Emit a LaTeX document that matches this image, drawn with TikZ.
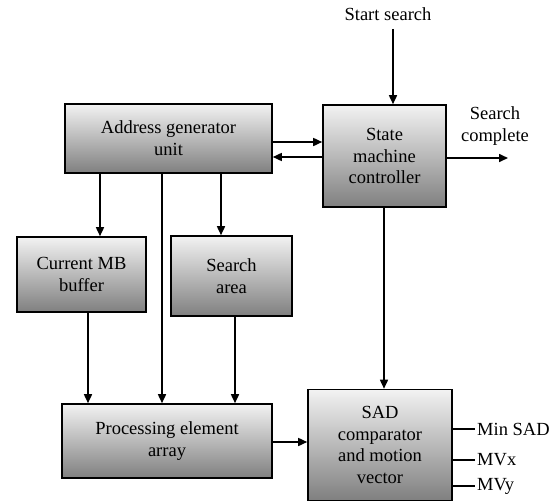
\documentclass[tikz,border=0pt]{standalone}
\usepackage{fontspec}
\setmainfont{Liberation Serif}
\usetikzlibrary{arrows.meta}
\tikzset{
  block/.style={draw=black, line width=1.6pt, top color=black!5, bottom color=black!50,
    align=center, inner sep=0pt, font=\fontsize{18.5}{21.8}\selectfont},
  lbl/.style={align=center, inner sep=2pt, font=\fontsize{18.5}{21.8}\selectfont},
  arr/.style={line width=1.6pt, -{Triangle[length=9pt,width=8pt]}},
  wire/.style={line width=1.6pt}
}
\begin{document}
\begin{tikzpicture}[x=1pt,y=-1pt]
\useasboundingbox (0,0) rectangle (559,503);

% blocks
\node[block, minimum width=207pt, minimum height=69pt] (agu) at (168.5,138.5) {Address generator\\unit};
\node[block, minimum width=123pt, minimum height=102pt] (smc) at (384.5,156) {State\\machine\\controller};
\node[block, minimum width=129pt, minimum height=75pt] (cmb) at (81.5,274.5) {Current MB\\buffer};
\node[block, minimum width=121pt, minimum height=80pt] (sa) at (231.5,276) {Search\\area};
\node[block, minimum width=210pt, minimum height=74pt] (pe) at (167,441) {Processing element\\array};
\node[block, minimum width=144pt, minimum height=111pt] (sad) at (380,445) {SAD\\comparator\\and motion\\vector};

% external labels
\node[lbl] (start) at (388,14) {Start search};
\coordinate (startend) at (393,29);
\node[lbl] (done) at (495,126) {Search\\complete};
\coordinate (doneend) at (508,158);
\node[lbl, anchor=west] (minsad) at (475,429) {Min SAD};
\node[lbl, anchor=west] (mvx) at (475,460) {MVx};
\node[lbl, anchor=west] (mvy) at (475,486) {MVy};

% control handshake
\draw[arr] (startend) -- (startend |- smc.north);
\draw[arr] (agu.east |- 0,142) -- (smc.west |- 0,142);
\draw[arr] (smc.west |- 0,157) -- (agu.east |- 0,157);
\draw[arr] (smc.east |- doneend) -- (doneend);

% address generator to memories and array
\draw[arr] (agu.south -| 100,0) -- (cmb.north -| 100,0);
\draw[arr] (agu.south -| 221,0) -- (sa.north -| 221,0);
\draw[arr] (agu.south -| 162,0) -- (pe.north -| 162,0);

% memories to processing element array
\draw[arr] (cmb.south -| 88,0) -- (pe.north -| 88,0);
\draw[arr] (sa.south -| 235,0) -- (pe.north -| 235,0);

% into the SAD comparator
\draw[arr] (smc.south -| 384,0) -- (sad.north -| 384,0);
\draw[arr] (pe.east |- 0,442) -- (sad.west |- 0,442);

% outputs
\draw[wire] (sad.east |- minsad.west) -- (minsad.west);
\draw[wire] (sad.east |- mvx.west) -- (mvx.west);
\draw[wire] (sad.east |- mvy.west) -- (mvy.west);
\end{tikzpicture}
\end{document}
